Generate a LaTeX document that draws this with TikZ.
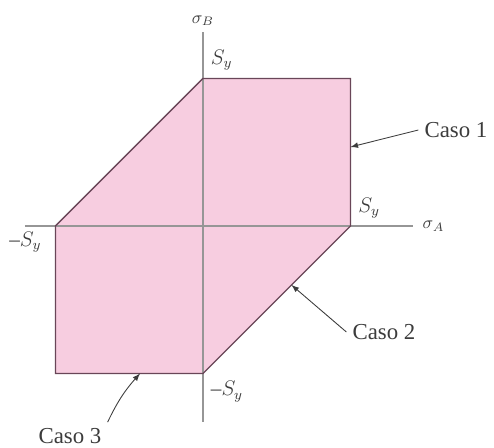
\documentclass[tikz,border=0pt]{standalone}
\usepackage{fontspec}
\setmainfont{Liberation Serif}
\usetikzlibrary{arrows}
\usetikzlibrary{math, calc}
\definecolor{mypink}{RGB}{247,205,224}
\definecolor{myedge}{RGB}{105,70,88}
\definecolor{myaxis}{RGB}{150,150,150}
\definecolor{mytext}{RGB}{60,60,60}
\begin{document}
\begin{tikzpicture}[scale=1]
\tikzmath{
\S=2.95;
\xl=-3.56;
\xr=4.2;
\yt=3.88;
\yb=-3.92;
}
\useasboundingbox (-4.06,-4.44) rectangle (5.82,4.52);
%region
\fill[mypink] (0,\S) -- (\S,\S) -- (\S,0) -- (0,-\S) -- (-\S,-\S) -- (-\S,0) -- cycle;
%axis
\draw[myaxis, line width=1pt] (\xl,0) -- (\xr,0) coordinate (xe);
\draw[myaxis, line width=1pt] (0,\yb) -- (0,\yt) coordinate (ye);
\node[right=2pt, text=mytext] (sa) at (xe) {$\sigma_A$};
\node[above=0pt, text=mytext] (sb) at (ye) {$\sigma_B$};
%boundary
\draw[myedge, line width=0.8pt] (0,\S) -- (\S,\S) -- (\S,0) -- (0,-\S) -- (-\S,-\S) -- (-\S,0) -- cycle;
%limits
\node[above right=1pt, font=\large, text=mytext] (syt) at (0,\S) {$S_y$};
\node[above right=1pt, font=\large, text=mytext] (syr) at (\S,0) {$S_y$};
\node[anchor=north east, xshift=-0.16cm, font=\large, text=mytext] (syl) at (-\S,0) {–$S_y$};
\node[below right=1pt, font=\large, text=mytext] (syb) at (0,-\S) {–$S_y$};
%cases
\coordinate (p1) at (\S,1.58);
\coordinate (p2) at ($(\S,0)!0.4!(0,-\S)$);
\coordinate (p3) at (-1.26,-\S);
\node[font=\fontsize{13}{15}\selectfont, text=mytext] (c1) at (5.06,1.92) {Caso 1};
\node[font=\fontsize{13}{15}\selectfont, text=mytext] (c2) at (3.62,-2.12) {Caso 2};
\node[font=\fontsize{13}{15}\selectfont, text=mytext] (c3) at (-2.66,-4.2) {Caso 3};
\draw[-latex, line width=0.5pt, mytext] (c1.west) -- (p1);
\draw[-latex, line width=0.5pt, mytext] (c2.west) -- (p2);
\draw[-latex, line width=0.5pt, mytext] (c3.north east) to[bend left=8] (p3);
\end{tikzpicture}
\end{document}
